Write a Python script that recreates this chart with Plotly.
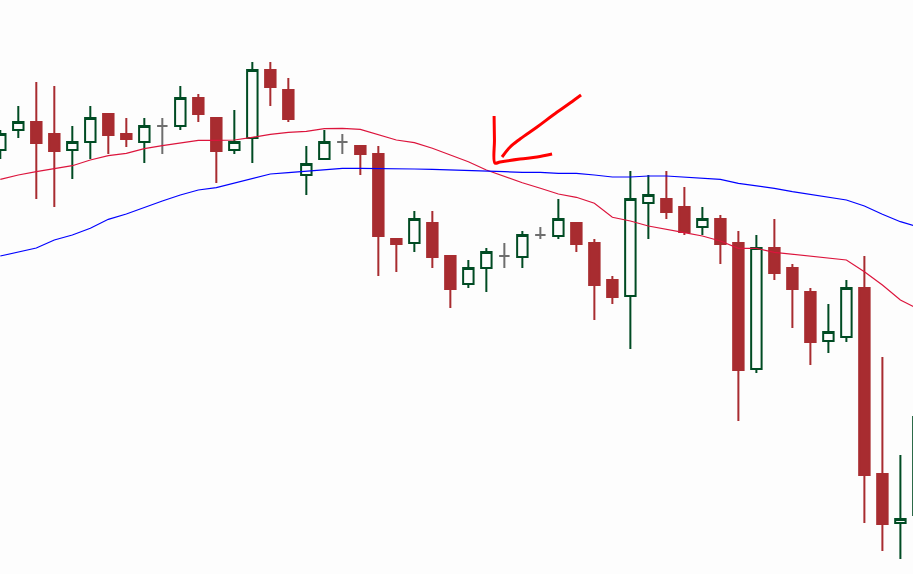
import plotly.graph_objects as go

# Candle data (index 0..51)
idx = list(range(52))
open_ = [45.0, 47.0, 47.8, 46.6, 45.0, 45.8, 48.6, 46.6, 45.8, 47.4,
         47.4, 50.2, 48.2, 45.0, 46.2, 53.0, 51.0, 42.5, 44.1, 45.8,
         45.4, 44.6, 36.1, 35.7, 37.7, 34.4, 31.6, 33.2, 34.4, 34.3,
         36.5, 36.4, 37.7, 35.7, 32.0, 30.4, 39.7, 40.1, 39.3, 37.3,
         38.1, 35.7, 23.1, 35.2, 33.2, 30.8, 25.9, 26.3, 31.2, 12.6,
         7.7, 8.5]
high = [47.0, 49.4, 51.8, 51.4, 47.4, 49.4, 48.6, 48.2, 48.2, 48.2,
        51.4, 50.6, 48.2, 49.0, 53.8, 53.8, 52.2, 45.4, 47.0, 46.6,
        45.4, 45.4, 36.1, 38.9, 38.9, 34.4, 34.0, 35.2, 35.7, 36.9,
        37.3, 40.1, 37.7, 36.1, 32.4, 42.9, 42.5, 42.9, 41.3, 39.3,
        38.5, 36.9, 36.5, 38.1, 33.6, 31.2, 29.6, 32.0, 34.4, 24.3,
        14.5, 19.6]
low = [44.1, 46.2, 40.1, 39.3, 42.1, 44.1, 44.6, 45.3, 43.7, 44.6,
       47.0, 47.8, 41.7, 44.6, 43.7, 49.4, 47.8, 40.5, 44.1, 44.6,
       42.5, 32.4, 32.8, 34.8, 33.2, 29.2, 31.2, 30.8, 33.2, 33.2,
       36.1, 36.1, 34.8, 28.0, 29.6, 25.1, 36.1, 38.1, 36.5, 36.5,
       33.6, 17.9, 22.7, 32.0, 27.2, 23.5, 24.7, 25.8, 7.7, 4.9,
       4.1, 7.0]
close = [46.6, 47.8, 45.7, 44.9, 45.8, 48.2, 46.5, 46.1, 47.4, 47.4,
         50.2, 48.6, 44.9, 45.8, 53.0, 51.3, 48.1, 43.6, 45.8, 45.8,
         44.6, 36.4, 35.6, 38.1, 34.3, 31.1, 33.2, 34.8, 34.4, 36.5,
         36.5, 38.1, 35.6, 31.5, 30.3, 40.1, 40.5, 38.8, 36.8, 38.1,
         35.6, 23.0, 35.2, 32.7, 31.1, 25.8, 26.8, 31.2, 12.5, 7.6,
         8.1, 18.3]

# Moving averages
ma_fast = [42.07, 42.5, 42.83, 43.1, 43.43, 44.0, 44.43, 44.67, 45.13, 45.43,
           45.67, 45.97, 45.97, 46.0, 46.27, 46.57, 46.77, 46.87, 47.13, 47.17,
           47.07, 46.53, 46.0, 45.73, 45.17, 44.5, 43.83, 43.0, 42.33, 41.73,
           41.17, 40.6, 40.27, 39.67, 38.27, 37.9, 37.4, 37.1, 36.73, 36.4,
           35.9, 35.17, 35.17, 34.77, 34.57, 34.37, 34.23, 34.0, 32.83, 31.5,
           30.0, 29.1]
ma_slow = [34.4, 34.77, 35.2, 36.0, 36.5, 37.17, 38.07, 38.6, 39.27, 39.9,
           40.5, 41.0, 41.23, 41.67, 42.17, 42.6, 42.73, 42.9, 43.07, 43.17,
           43.17, 43.17, 43.1, 43.1, 43.07, 43.0, 42.97, 42.83, 42.83, 42.77,
           42.77, 42.67, 42.67, 42.5, 42.3, 42.3, 42.4, 42.4, 42.27, 42.17,
           42.07, 41.67, 41.43, 41.17, 40.83, 40.57, 40.33, 40.0, 39.4, 38.57,
           37.83, 37.3]

# Hand-drawn arrow strokes
arrow1_x = [27.43, 27.45, 27.48, 27.76, 28.87, 29.82, 30.65]
arrow1_y = [48.4, 46.0, 43.7, 43.8, 44.1, 44.3, 44.6]
arrow2_x = [27.87, 28.32, 28.87, 29.82, 30.71, 31.65, 32.26]
arrow2_y = [44.3, 45.3, 46.1, 47.3, 48.5, 49.7, 50.5]

RED = "#A82C30"
GREEN = "#004B23"
GRAY = "#6E6E6E"
BG = "#FDFDFD"

reg = [i for i in idx if open_[i] != close[i]]
doj = [i for i in idx if open_[i] == close[i]]

fig = go.Figure()
fig.add_trace(go.Candlestick(
    x=[idx[i] for i in reg],
    open=[open_[i] for i in reg], high=[high[i] for i in reg],
    low=[low[i] for i in reg], close=[close[i] for i in reg],
    increasing=dict(line=dict(color=GREEN, width=2), fillcolor=BG),
    decreasing=dict(line=dict(color=RED, width=2), fillcolor=RED),
    hoverinfo="skip",
))
fig.add_trace(go.Candlestick(
    x=[idx[i] for i in doj],
    open=[open_[i] for i in doj], high=[high[i] for i in doj],
    low=[low[i] for i in doj], close=[close[i] for i in doj],
    increasing=dict(line=dict(color=GRAY, width=2), fillcolor=GRAY),
    decreasing=dict(line=dict(color=GRAY, width=2), fillcolor=GRAY),
    hoverinfo="skip",
))
fig.add_trace(go.Scatter(x=idx, y=ma_fast, mode="lines",
                         line=dict(color="#DC143C", width=1.2), hoverinfo="skip"))
fig.add_trace(go.Scatter(x=idx, y=ma_slow, mode="lines",
                         line=dict(color="#0000FF", width=1.2), hoverinfo="skip"))
for ax, ay in [(arrow1_x, arrow1_y), (arrow2_x, arrow2_y)]:
    fig.add_trace(go.Scatter(x=ax, y=ay, mode="lines",
                             line=dict(color="#FF0000", width=3, shape="spline"),
                             hoverinfo="skip"))

fig.update_layout(
    width=913, height=574,
    margin=dict(l=0, r=0, t=0, b=0),
    paper_bgcolor=BG, plot_bgcolor=BG,
    showlegend=False,
    boxgap=0.42, boxgroupgap=0,
    xaxis=dict(visible=False, range=[-0.0167, 50.7], rangeslider=dict(visible=False)),
    yaxis=dict(visible=False, range=[2.6, 60.0]),
)
fig.write_html(
    "out.html",
    config={"displayModeBar": False},
    post_script="document.body.style.margin='0';document.body.style.overflow='hidden';document.body.style.background='#FDFDFD';",
)
